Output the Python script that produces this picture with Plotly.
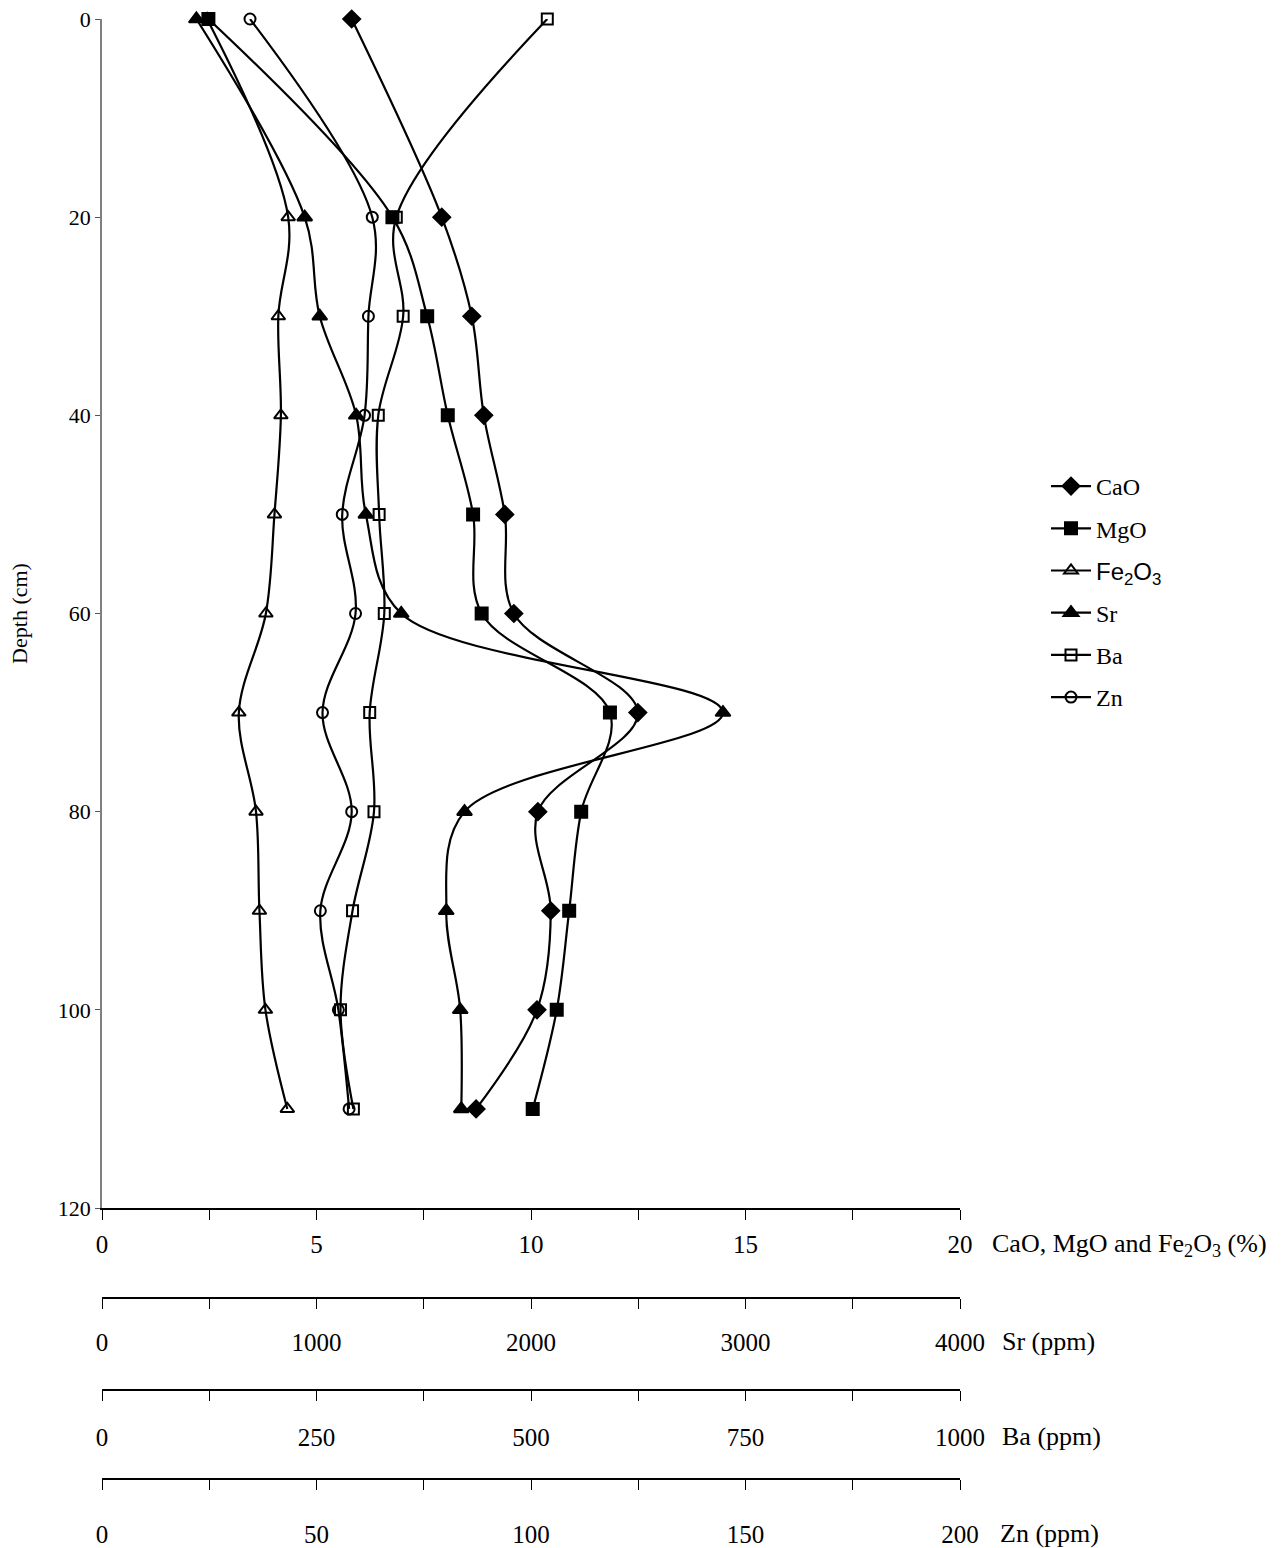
import plotly.graph_objects as go

# Sampling depths (cm)
depth = [0, 20, 30, 40, 50, 60, 70, 80, 90, 100, 110]

# Major oxides (%)
cao = [5.82, 7.92, 8.62, 8.90, 9.39, 9.60, 12.49, 10.16, 10.46, 10.14, 8.72]
mgo = [2.48, 6.77, 7.58, 8.06, 8.65, 8.85, 11.84, 11.17, 10.89, 10.60, 10.04]
fe2o3 = [2.45, 4.34, 4.11, 4.17, 4.02, 3.82, 3.19, 3.59, 3.67, 3.81, 4.32]

# Trace elements (ppm)
sr = [440, 945, 1015, 1185, 1230, 1395, 2895, 1690, 1605, 1670, 1675]
ba = [519, 343, 351, 322, 323, 329, 312, 317, 292, 278, 293]
zn = [34.5, 63.0, 62.1, 61.2, 56.0, 59.1, 51.4, 58.2, 50.9, 55.1, 57.6]

# Axis tick positions and labels
oxide_ticks = [0, 2.5, 5, 7.5, 10, 12.5, 15, 17.5, 20]
sr_ticks = [0, 500, 1000, 1500, 2000, 2500, 3000, 3500, 4000]
ba_ticks = [0, 125, 250, 375, 500, 625, 750, 875, 1000]
zn_ticks = [0, 25, 50, 75, 100, 125, 150, 175, 200]
depth_ticks = [0, 20, 40, 60, 80, 100, 120]

W, H = 1288, 1548
SERIF = "Liberation Serif, Times New Roman, serif"
SANS = "Liberation Sans, Arial, sans-serif"


def labels(vals, step):
    return [str(int(v)) if abs(v / step - round(v / step)) < 1e-9 else "" for v in vals]


def ypos(px):
    return 1 - px / H


fig = go.Figure()

series = [
    ("CaO", cao, "x", "diamond", 13),
    ("MgO", mgo, "x", "square", 12),
    ('<span style="font-family:Liberation Sans, Arial, sans-serif">'
     'Fe<sub>2</sub>O<sub>3</sub></span>', fe2o3, "x", "triangle-up-open", 12),
    ("Sr", sr, "x2", "triangle-up", 13),
    ("Ba", ba, "x3", "square-open", 11),
    ("Zn", zn, "x4", "circle-open", 11),
]

for i, (name, vals, xa, sym, size) in enumerate(series):
    fig.add_trace(go.Scatter(
        x=vals, y=depth, xaxis=xa, yaxis="y",
        mode="lines+markers", name=name, legendgroup=f"g{i}",
        line=dict(color="black", width=2.2, shape="spline", smoothing=1),
        marker=dict(symbol=sym, size=size, color="black",
                    line=dict(color="black", width=2)),
        cliponaxis=False,
    ))

x_dom = [102 / W, 960 / W]
axis_common = dict(
    showgrid=False, zeroline=False, showline=True, linecolor="black",
    linewidth=2, ticks="outside", ticklen=10, tickcolor="black", tickwidth=1,
    automargin=False,
    tickfont=dict(family=SERIF, size=25, color="black"),
)

fig.update_layout(
    width=W, height=H,
    margin=dict(l=0, r=0, t=0, b=0, autoexpand=False),
    paper_bgcolor="white", plot_bgcolor="white",
    font=dict(family=SERIF, color="black"),
    xaxis=dict(domain=x_dom, range=[0, 20], anchor="y",
               tickmode="array", tickvals=oxide_ticks,
               ticktext=labels(oxide_ticks, 5), ticklabelstandoff=3,
               **axis_common),
    xaxis2=dict(overlaying="x", range=[0, 4000], anchor="free",
                position=ypos(1298), side="bottom",
                tickmode="array", tickvals=sr_ticks,
                ticktext=labels(sr_ticks, 1000), ticklabelstandoff=12,
                **axis_common),
    xaxis3=dict(overlaying="x", range=[0, 1000], anchor="free",
                position=ypos(1390), side="bottom",
                tickmode="array", tickvals=ba_ticks,
                ticktext=labels(ba_ticks, 250), ticklabelstandoff=15,
                **axis_common),
    xaxis4=dict(overlaying="x", range=[0, 200], anchor="free",
                position=ypos(1479), side="bottom",
                tickmode="array", tickvals=zn_ticks,
                ticktext=labels(zn_ticks, 50), ticklabelstandoff=23,
                **axis_common),
    yaxis=dict(domain=[ypos(1208), ypos(19)], range=[120, 0],
               showgrid=False, zeroline=False, showline=True,
               linecolor="#7f7f7f", linewidth=1.5, ticks="outside",
               ticklen=5, tickcolor="#555555", tickvals=depth_ticks,
               automargin=False,
               tickfont=dict(family=SERIF, size=22, color="black"),
               title=dict(text="Depth (cm)", standoff=24,
                          font=dict(family=SERIF, size=22, color="black"))),
    legend=dict(x=1046 / W, y=ypos(464), xanchor="left", yanchor="top",
                traceorder="grouped", tracegroupgap=8,
                font=dict(family=SERIF, size=24, color="black"),
                bgcolor="rgba(0,0,0,0)", itemwidth=40),
    showlegend=True,
)

# Axis titles to the right of each scale
titles = [
    ("CaO, MgO and Fe<sub>2</sub>O<sub>3</sub> (%)", 990, 1245),
    ("Sr (ppm)", 1000, 1341),
    ("Ba (ppm)", 1000, 1436),
    ("Zn (ppm)", 998, 1533),
]
for text, px, py in titles:
    fig.add_annotation(text=text, xref="paper", yref="paper",
                       x=px / W, y=ypos(py), xanchor="left", yanchor="middle",
                       showarrow=False,
                       font=dict(family=SERIF, size=26, color="black"))

fig.write_html("out.html")
